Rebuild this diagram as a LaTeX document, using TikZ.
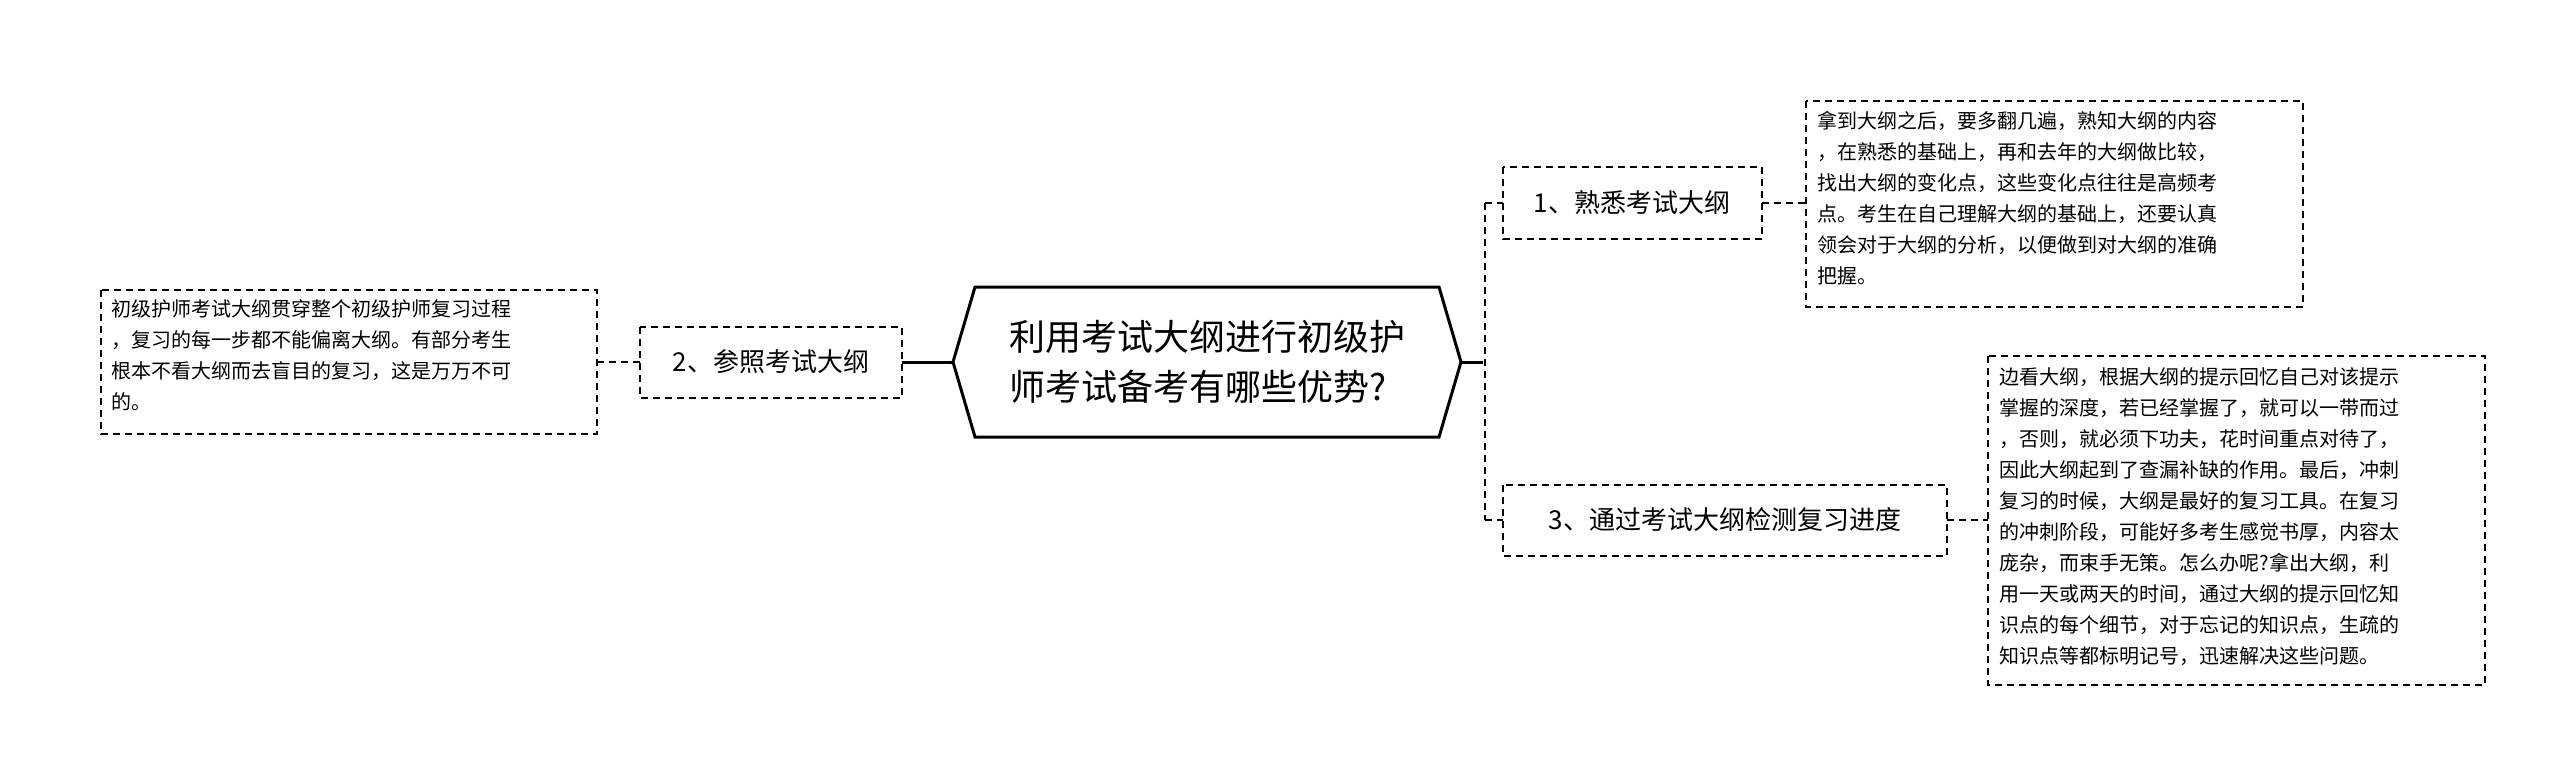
\documentclass[tikz,border=0pt]{standalone}
\usepackage{fontspec}
\setmainfont{Noto Sans CJK SC}
\begin{document}
\begin{tikzpicture}[x=1pt,y=1pt,
 dbox/.style={draw, dashed, line width=1.6pt, dash pattern=on 7pt off 5pt, inner sep=0pt},
 body/.style={font=\fontsize{20}{31}\selectfont, align=left, anchor=north west},
 branch/.style={font=\fontsize{26}{30}\selectfont},
 link/.style={line width=1.8pt, dash pattern=on 7pt off 5pt}]
\useasboundingbox (0,0) rectangle (2560,-778);
% central hexagon
\draw[line width=3pt] (953,-362) -- (975,-287) -- (1439,-287) -- (1461,-362) -- (1439,-437) -- (975,-437) -- cycle;
\node[font=\fontsize{36}{50}\selectfont, align=left] (c) at (1207,-362) {利用考试大纲进行初级护\\师考试备考有哪些优势?};
\coordinate (cl) at (953,-362);
\coordinate (cr) at (1461,-362);
% branch nodes
\draw[dbox] (640,-327) rectangle (902,-398);
\node[branch] (n2) at (771,-362) {2、参照考试大纲};
\coordinate (n2l) at (640,-362); \coordinate (n2r) at (902,-362);
\draw[dbox] (1503,-167) rectangle (1762,-239);
\node[branch] (n1) at (1632,-203) {1、熟悉考试大纲};
\coordinate (n1l) at (1503,-203); \coordinate (n1r) at (1762,-203);
\draw[dbox] (1503,-485) rectangle (1947,-556);
\node[branch] (n3) at (1725,-520) {3、通过考试大纲检测复习进度};
\coordinate (n3l) at (1503,-520); \coordinate (n3r) at (1947,-520);
% text boxes
\draw[dbox] (101,-290) rectangle (597,-434);
\node[body] (t2) at (108,-296) {初级护师考试大纲贯穿整个初级护师复习过程\\，复习的每一步都不能偏离大纲。有部分考生\\根本不看大纲而去盲目的复习，这是万万不可\\的。};
\coordinate (t2r) at (597,-362);
\draw[dbox] (1806,-101) rectangle (2303,-307);
\node[body] (t1) at (1814,-108) {拿到大纲之后，要多翻几遍，熟知大纲的内容\\，在熟悉的基础上，再和去年的大纲做比较，\\找出大纲的变化点，这些变化点往往是高频考\\点。考生在自己理解大纲的基础上，还要认真\\领会对于大纲的分析，以便做到对大纲的准确\\把握。};
\coordinate (t1l) at (1806,-203);
\draw[dbox] (1988,-356) rectangle (2485,-685);
\node[body] (t3) at (1996,-364) {边看大纲，根据大纲的提示回忆自己对该提示\\掌握的深度，若已经掌握了，就可以一带而过\\，否则，就必须下功夫，花时间重点对待了，\\因此大纲起到了查漏补缺的作用。最后，冲刺\\复习的时候，大纲是最好的复习工具。在复习\\的冲刺阶段，可能好多考生感觉书厚，内容太\\庞杂，而束手无策。怎么办呢?拿出大纲，利\\用一天或两天的时间，通过大纲的提示回忆知\\识点的每个细节，对于忘记的知识点，生疏的\\知识点等都标明记号，迅速解决这些问题。};
\coordinate (t3l) at (1988,-520);
% connectors
\draw[line width=3pt] (cl) -- (n2r);
\draw[line width=3pt] (cr) -- ++(22,0) coordinate (sp);
\draw[link] (1485,-203) -- (1485,-520);
\draw[link] (1485,-203) -- (n1l);
\draw[link] (1485,-520) -- (n3l);
\draw[link] (n2l) -- (t2r);
\draw[link] (n1r) -- (t1l);
\draw[link] (n3r) -- (t3l);
\end{tikzpicture}
\end{document}
